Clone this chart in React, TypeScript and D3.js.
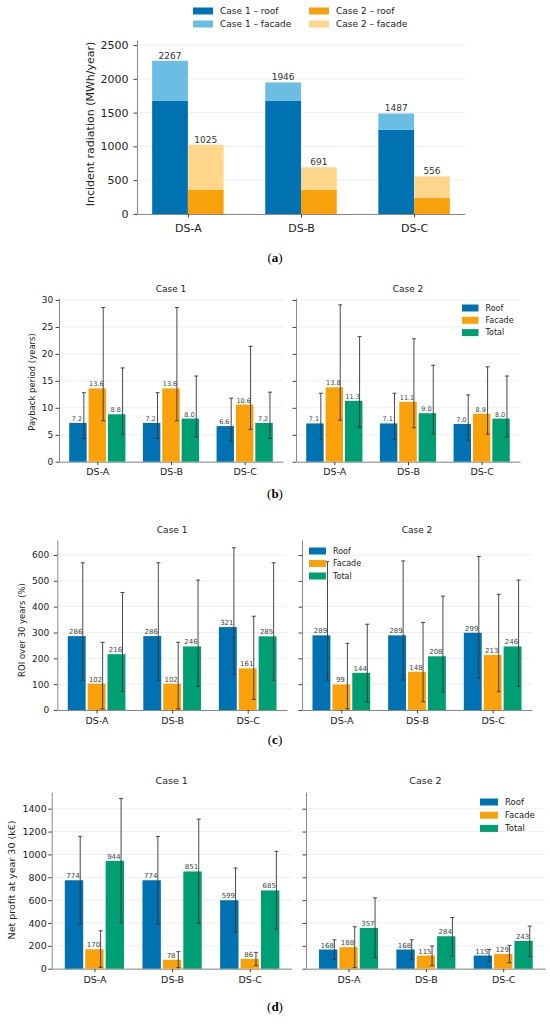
import { useEffect, useRef } from 'react'
import * as d3 from 'd3'

type Triple = [number, number, number] // [value, low, high]

const sites = ['DS-A', 'DS-B', 'DS-C']
const seriesNames = ['Roof', 'Facade', 'Total']
const seriesColors = ['#0072b2', '#f9a10a', '#009e73']

// (a) incident radiation, MWh/year
const case1Roof = [1678, 1678, 1245]
const case1Total = [2267, 1946, 1487]
const case2Roof = [359, 359, 236]
const case2Total = [1025, 691, 556]
const radiationTicks = [0, 500, 1000, 1500, 2000, 2500]

// (b) payback period, years
const paybackCase1Roof: Triple[] = [[7.2, 4.3, 12.8], [7.2, 4.3, 12.8], [6.6, 3.8, 11.8]]
const paybackCase1Facade: Triple[] = [[13.6, 7.6, 28.6], [13.6, 7.6, 28.6], [10.6, 6.0, 21.4]]
const paybackCase1Total: Triple[] = [[8.8, 5.1, 17.4], [8.0, 4.6, 15.9], [7.2, 4.3, 12.9]]
const paybackCase2Roof: Triple[] = [[7.1, 4.1, 12.7], [7.1, 4.1, 12.7], [7.0, 4.0, 12.4]]
const paybackCase2Facade: Triple[] = [[13.8, 7.7, 29.1], [11.1, 6.3, 22.8], [8.9, 5.1, 17.6]]
const paybackCase2Total: Triple[] = [[11.3, 6.4, 23.2], [9.0, 5.2, 17.9], [8.0, 4.6, 15.9]]
const paybackTicks = [0, 5, 10, 15, 20, 25, 30]

// (c) ROI over 30 years, %
const roiCase1Roof: Triple[] = [[286, 115, 570], [286, 115, 570], [321, 137, 628]]
const roiCase1Facade: Triple[] = [[102, 4, 262], [102, 4, 262], [161, 41, 363]]
const roiCase1Total: Triple[] = [[216, 72, 455], [246, 92, 503], [285, 115, 570]]
const roiCase2Roof: Triple[] = [[289, 116, 574], [289, 116, 577], [299, 123, 594]]
const roiCase2Facade: Triple[] = [[99, 4, 258], [148, 32, 339], [213, 71, 448]]
const roiCase2Total: Triple[] = [[144, 30, 332], [208, 70, 441], [246, 92, 503]]
const roiTicks = [0, 100, 200, 300, 400, 500, 600]

// (d) net profit at year 30, k€
const profitCase1Roof: Triple[] = [[774, 391, 1158], [774, 391, 1158], [599, 318, 881]]
const profitCase1Facade: Triple[] = [[170, 12, 332], [78, 9, 149], [86, 29, 143]]
const profitCase1Total: Triple[] = [[944, 402, 1490], [851, 397, 1309], [685, 347, 1027]]
const profitCase2Roof: Triple[] = [[168, 79, 253], [168, 79, 253], [115, 58, 169]]
const profitCase2Facade: Triple[] = [[188, 9, 367], [115, 29, 198], [129, 52, 204]]
const profitCase2Total: Triple[] = [[357, 96, 620], [284, 111, 448], [243, 105, 373]]
const profitTicks = [0, 200, 400, 600, 800, 1000, 1200, 1400]

const FONT = 'DejaVu Sans, sans-serif'
const SPINE = '#8a8a8a'
const GRID = '#ebebeb'
const TEXT = '#222'

type Sel = d3.Selection<SVGGElement, unknown, null, undefined>

interface AxisOpts {
  left: number
  right: number
  y0: number
  tickRef: number
  tickRefPx: number
  yMax: number
  xDomain: [number, number]
}

function makeScales(o: AxisOpts) {
  const pxPerUnit = (o.y0 - o.tickRefPx) / o.tickRef
  const y = d3.scaleLinear().domain([0, o.yMax]).range([o.y0, o.y0 - o.yMax * pxPerUnit])
  const x = d3.scaleLinear().domain(o.xDomain).range([o.left, o.right])
  return { x, y }
}

function drawFrame(
  g: Sel,
  x: d3.ScaleLinear<number, number>,
  y: d3.ScaleLinear<number, number>,
  ticks: number[],
  tickLabels: boolean,
  yFont: number,
  yPad: number,
  xFont: number,
  xPad: number,
) {
  const [left, right] = x.range()
  g.append('g')
    .selectAll('line')
    .data(ticks)
    .enter()
    .append('line')
    .attr('x1', left)
    .attr('x2', right)
    .attr('y1', (d) => y(d))
    .attr('y2', (d) => y(d))
    .attr('stroke', GRID)
    .attr('stroke-width', 0.8)

  const ya = g
    .append('g')
    .attr('transform', `translate(${left},0)`)
    .call(
      d3
        .axisLeft(y)
        .tickValues(ticks)
        .tickSize(3.5)
        .tickSizeOuter(0)
        .tickPadding(yPad)
        .tickFormat((d) => (tickLabels ? `${d}` : '')),
    )
  ya.select('.domain').attr('stroke', SPINE)
  ya.selectAll('.tick line').attr('stroke', '#444')
  ya.selectAll('text').attr('fill', TEXT).attr('font-size', yFont).attr('font-family', FONT)

  const xa = g
    .append('g')
    .attr('transform', `translate(0,${y(0)})`)
    .call(
      d3
        .axisBottom(x)
        .tickValues([0, 1, 2])
        .tickSize(3.5)
        .tickSizeOuter(0)
        .tickPadding(xPad)
        .tickFormat((d) => sites[d as number]),
    )
  xa.select('.domain').attr('stroke', SPINE)
  xa.selectAll('.tick line').attr('stroke', '#444')
  xa.selectAll('text').attr('fill', TEXT).attr('font-size', xFont).attr('font-family', FONT)
}

function drawLegend(
  g: Sel,
  items: { label: string; color: string }[],
  x: number,
  y0: number,
  dy: number,
  sw: number,
  fontSize: number,
) {
  items.forEach((it, i) => {
    const cy = y0 + i * dy
    g.append('rect')
      .attr('x', x)
      .attr('y', cy - 3.5)
      .attr('width', sw)
      .attr('height', 7)
      .attr('fill', it.color)
    g.append('text')
      .attr('x', x + sw + 7)
      .attr('y', cy)
      .attr('dy', '0.35em')
      .attr('fill', TEXT)
      .attr('font-size', fontSize)
      .attr('font-family', FONT)
      .text(it.label)
  })
}

interface GroupedOpts extends AxisOpts {
  series: Triple[][]
  ticks: number[]
  tickLabels: boolean
  fmt: (v: number) => string
  labelSize: number
  yFont: number
  yPad: number
  xFont: number
  xPad: number
  title: string
  titleY: number
  titleSize: number
}

function drawGrouped(g: Sel, o: GroupedOpts) {
  const { x, y } = makeScales(o)
  drawFrame(g, x, y, o.ticks, o.tickLabels, o.yFont, o.yPad, o.xFont, o.xPad)

  const offsets = [-0.263, 0, 0.263]
  const w = 0.237
  o.series.forEach((vals, si) => {
    vals.forEach(([v], i) => {
      const c = i + offsets[si]
      g.append('rect')
        .attr('x', x(c - w / 2))
        .attr('y', y(v))
        .attr('width', x(c + w / 2) - x(c - w / 2))
        .attr('height', y(0) - y(v))
        .attr('fill', seriesColors[si])
      g.append('text')
        .attr('x', x(c) - 1)
        .attr('y', y(v) - 2)
        .attr('text-anchor', 'middle')
        .attr('fill', '#444')
        .attr('font-size', o.labelSize)
        .attr('font-family', FONT)
        .text(o.fmt(v))
    })
  })
  // error bars on top of everything
  o.series.forEach((vals, si) => {
    vals.forEach(([, lo, hi], i) => {
      const ex = x(i + offsets[si] + 0.08)
      const eb = g.append('g').attr('stroke', '#333').attr('stroke-width', 0.9)
      eb.append('line').attr('x1', ex).attr('x2', ex).attr('y1', y(lo)).attr('y2', y(hi))
      eb.append('line').attr('x1', ex - 2).attr('x2', ex + 2).attr('y1', y(lo)).attr('y2', y(lo))
      eb.append('line').attr('x1', ex - 2).attr('x2', ex + 2).attr('y1', y(hi)).attr('y2', y(hi))
    })
  })

  g.append('text')
    .attr('x', (o.left + o.right) / 2)
    .attr('y', o.titleY)
    .attr('text-anchor', 'middle')
    .attr('fill', TEXT)
    .attr('font-size', o.titleSize)
    .attr('font-family', FONT)
    .text(o.title)
}

function yLabel(g: Sel, text: string, x: number, y: number, size: number) {
  g.append('text')
    .attr('transform', `translate(${x},${y}) rotate(-90)`)
    .attr('text-anchor', 'middle')
    .attr('dy', '0.35em')
    .attr('fill', TEXT)
    .attr('font-size', size)
    .attr('font-family', FONT)
    .text(text)
}

function caption(g: Sel, letter: string, y: number) {
  const t = g
    .append('text')
    .attr('x', 275)
    .attr('y', y)
    .attr('text-anchor', 'middle')
    .attr('fill', '#000')
    .attr('font-size', 13)
    .attr('font-family', 'Liberation Serif, serif')
  t.append('tspan').text('(')
  t.append('tspan').attr('font-weight', 'bold').text(letter)
  t.append('tspan').text(')')
}

const legendItems = seriesNames.map((label, i) => ({ label, color: seriesColors[i] }))

export default function App() {
  const ref = useRef<SVGSVGElement | null>(null)

  useEffect(() => {
    if (!ref.current) return
    const svg = d3.select(ref.current)
    svg.selectAll('*').remove()
    const root = svg.append('g') as unknown as Sel

    // ---------- (a) ----------
    {
      const ga = root.append('g')
      const { x, y } = makeScales({
        left: 137,
        right: 465,
        y0: 214,
        tickRef: 2500,
        tickRefPx: 45,
        yMax: 2575,
        xDomain: [-0.45, 2.45],
      })
      drawFrame(ga, x, y, radiationTicks, true, 11, 5, 11, 7)
      const w = 0.316
      const stacks = [
        { roof: case1Roof, total: case1Total, off: -w / 2, dark: '#0072b2', light: '#6cbde3' },
        { roof: case2Roof, total: case2Total, off: w / 2, dark: '#f9a10a', light: '#ffd68c' },
      ]
      stacks.forEach((s) => {
        sites.forEach((_, i) => {
          const c = i + s.off
          const bx = x(c - w / 2)
          const bw = x(c + w / 2) - bx
          ga.append('rect')
            .attr('x', bx)
            .attr('y', y(s.roof[i]))
            .attr('width', bw)
            .attr('height', y(0) - y(s.roof[i]))
            .attr('fill', s.dark)
          ga.append('rect')
            .attr('x', bx)
            .attr('y', y(s.total[i]))
            .attr('width', bw)
            .attr('height', y(s.roof[i]) - y(s.total[i]))
            .attr('fill', s.light)
          ga.append('text')
            .attr('x', x(c))
            .attr('y', y(s.total[i]) - 2)
            .attr('text-anchor', 'middle')
            .attr('fill', '#333')
            .attr('font-size', 9)
            .attr('font-family', FONT)
            .text(`${s.total[i]}`)
        })
      })
      yLabel(ga, 'Incident radiation (MWh/year)', 90, 124, 11)
      drawLegend(
        ga,
        [
          { label: 'Case 1 – roof', color: '#0072b2' },
          { label: 'Case 1 – facade', color: '#6cbde3' },
        ],
        193,
        11,
        13,
        20,
        9,
      )
      drawLegend(
        ga,
        [
          { label: 'Case 2 – roof', color: '#f9a10a' },
          { label: 'Case 2 – facade', color: '#ffd68c' },
        ],
        309,
        11,
        13,
        20,
        9,
      )
      caption(ga, 'a', 262)
    }

    // ---------- (b) ----------
    {
      const gb = root.append('g')
      const common = {
        y0: 461.7,
        tickRef: 30,
        tickRefPx: 300,
        yMax: 30.35,
        xDomain: [-0.52, 2.52] as [number, number],
        ticks: paybackTicks,
        fmt: (v: number) => v.toFixed(1),
        labelSize: 6.5,
        yFont: 9,
        yPad: 2.2,
        xFont: 9.5,
        xPad: 3.2,
        titleY: 292,
        titleSize: 9,
      }
      drawGrouped(gb, {
        ...common,
        left: 59,
        right: 283,
        series: [paybackCase1Roof, paybackCase1Facade, paybackCase1Total],
        tickLabels: true,
        title: 'Case 1',
      })
      drawGrouped(gb, {
        ...common,
        left: 296,
        right: 520,
        series: [paybackCase2Roof, paybackCase2Facade, paybackCase2Total],
        tickLabels: false,
        title: 'Case 2',
      })
      yLabel(gb, 'Payback period (years)', 32, 382, 8.5)
      drawLegend(gb, legendItems, 462, 308, 12.3, 16.5, 8)
      caption(gb, 'b', 498)
    }

    // ---------- (c) ----------
    {
      const gc = root.append('g')
      const common = {
        y0: 710,
        tickRef: 600,
        tickRefPx: 555,
        yMax: 658,
        xDomain: [-0.52, 2.52] as [number, number],
        ticks: roiTicks,
        fmt: (v: number) => `${v}`,
        labelSize: 7,
        yFont: 9,
        yPad: 4.5,
        xFont: 9.5,
        xPad: 3.8,
        titleY: 533,
        titleSize: 9,
      }
      drawGrouped(gc, {
        ...common,
        left: 57.3,
        right: 287,
        series: [roiCase1Roof, roiCase1Facade, roiCase1Total],
        tickLabels: true,
        title: 'Case 1',
      })
      drawGrouped(gc, {
        ...common,
        left: 302,
        right: 532,
        series: [roiCase2Roof, roiCase2Facade, roiCase2Total],
        tickLabels: false,
        title: 'Case 2',
      })
      yLabel(gc, 'ROI over 30 years (%)', 22, 630, 8.5)
      drawLegend(gc, legendItems, 309, 551, 12.5, 17, 8)
      caption(gc, 'c', 744)
    }

    // ---------- (d) ----------
    {
      const gd = root.append('g')
      const common = {
        y0: 968.7,
        tickRef: 1400,
        tickRefPx: 808.7,
        yMax: 1546,
        xDomain: [-0.55, 2.54] as [number, number],
        ticks: profitTicks,
        fmt: (v: number) => `${v}`,
        labelSize: 7,
        yFont: 9.5,
        yPad: 1.5,
        xFont: 9.5,
        xPad: 4,
        titleY: 783.5,
        titleSize: 9.5,
      }
      drawGrouped(gd, {
        ...common,
        left: 51.7,
        right: 291.7,
        series: [profitCase1Roof, profitCase1Facade, profitCase1Total],
        tickLabels: true,
        title: 'Case 1',
      })
      drawGrouped(gd, {
        ...common,
        left: 306,
        right: 545,
        series: [profitCase2Roof, profitCase2Facade, profitCase2Total],
        tickLabels: false,
        title: 'Case 2',
      })
      yLabel(gd, 'Net profit at year 30 (k€)', 12, 880, 9.5)
      drawLegend(gd, legendItems, 480, 802, 13.2, 18, 8.5)
      caption(gd, 'd', 1011)
    }
  }, [])

  return (
    <svg
      ref={ref}
      width={550}
      height={1024}
      viewBox="0 0 550 1024"
      style={{ position: 'absolute', left: 0, top: 0, background: '#fff' }}
      role="img"
      aria-label="PV incident radiation and economic indicators"
    />
  )
}
